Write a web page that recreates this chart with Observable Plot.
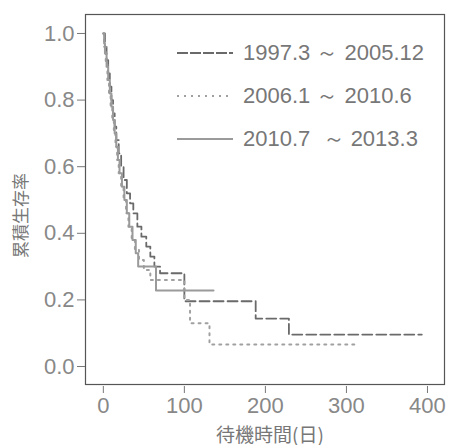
<!DOCTYPE html>
<html><head><meta charset="utf-8">
<script src="https://cdn.jsdelivr.net/npm/d3@7"></script>
<script src="https://cdn.jsdelivr.net/npm/@observablehq/plot@0.6"></script>
<style>
body{margin:0;background:#fff;}
#wrap{position:relative;width:450px;height:445px;overflow:hidden;}
#legend{position:absolute;left:177px;top:31px;font-family:"Liberation Sans",Arial,sans-serif;font-size:22px;color:#777;}
#legend .row{height:43px;display:flex;align-items:center;}
#legend svg{margin-right:10px;}
</style></head>
<body><div id="wrap"><div id="legend"></div></div>
<script>
const seriesNames = ["1997.3 ～ 2005.12", "2006.1 ～ 2010.6", "2010.7  ～ 2013.3"];
const seriesColors = ["#6a6a6a", "#a0a0a0", "#9a9a9a"];
const seriesDash = ["10,4", "2,5", null];
const xTicks = [0, 100, 200, 300, 400];
const yTicks = [0, 0.2, 0.4, 0.6, 0.8, 1.0];

const t1 = [0, 2, 4, 6, 8, 10, 12, 14, 16, 19, 22, 25, 29, 33, 37, 42, 47, 53, 58, 63, 70, 100, 188, 229, 393];
const s1 = [1.0, 0.96, 0.92, 0.88, 0.84, 0.80, 0.76, 0.72, 0.68, 0.64, 0.60, 0.56, 0.52, 0.49, 0.46, 0.42, 0.39, 0.36, 0.33, 0.30, 0.28, 0.196, 0.144, 0.096, 0.096];
const t2 = [0, 1, 3, 5, 7, 9, 11, 13, 15, 17, 19, 22, 25, 28, 31, 35, 39, 44, 50, 58, 100, 107, 131, 311];
const s2 = [1.0, 0.96, 0.91, 0.86, 0.82, 0.78, 0.74, 0.70, 0.66, 0.62, 0.58, 0.54, 0.50, 0.46, 0.42, 0.38, 0.35, 0.32, 0.29, 0.26, 0.20, 0.13, 0.066, 0.066];
const t3 = [0, 1, 2, 4, 6, 8, 10, 12, 14, 16, 18, 20, 23, 26, 29, 32, 36, 40, 43, 65, 136];
const s3 = [1.0, 0.97, 0.94, 0.90, 0.86, 0.82, 0.78, 0.74, 0.70, 0.66, 0.62, 0.58, 0.54, 0.50, 0.46, 0.42, 0.38, 0.34, 0.30, 0.228, 0.228];

const times = [t1, t2, t3];
const surv = [s1, s2, s3];

const lineMarks = times.map((ts, i) => Plot.line(ts.map((t, j) => ({t, s: surv[i][j]})), {
  x: "t", y: "s", curve: "step-after",
  stroke: seriesColors[i], strokeWidth: i === 0 ? 1.8 : 2,
  strokeDasharray: seriesDash[i]
}));

const chart = Plot.plot({
  width: 450, height: 445,
  marginLeft: 85, marginRight: 6, marginTop: 14, marginBottom: 61,
  style: {background: "#fff", fontFamily: "Liberation Sans, Arial, sans-serif", color: "#777"},
  x: {domain: [-22, 421]},
  y: {domain: [-0.054, 1.057]},
  marks: [
    ...lineMarks,
    Plot.frame({stroke: "#555", strokeWidth: 1.2}),
    Plot.axisX(xTicks, {tickSize: 7, tickPadding: 4, fontSize: 22, label: null, stroke: "#777", fill: "#888", dy: 2}),
    Plot.axisY(yTicks, {tickSize: 8, tickPadding: 3, fontSize: 22, label: null, tickFormat: d3.format(".1f"), stroke: "#777", fill: "#888"}),
    Plot.text(["待機時間(日)"], {frameAnchor: "bottom", textAnchor: "middle", dx: 5, dy: 57, fontSize: 19, fill: "#777", fontFamily: "Noto Sans CJK JP"}),
    Plot.text(["累積生存率"], {frameAnchor: "left", textAnchor: "middle", dx: -64, dy: 16, rotate: -90, fontSize: 17, fill: "#777", fontFamily: "Noto Sans CJK JP"})
  ]
});
document.getElementById("wrap").prepend(chart);

const legend = document.getElementById("legend");
seriesNames.forEach((name, i) => {
  const row = document.createElement("div");
  row.className = "row";
  row.innerHTML = `<svg width="56" height="6"><line x1="0" x2="56" y1="3" y2="3" stroke="${seriesColors[i]}" stroke-width="2" ${seriesDash[i] ? `stroke-dasharray="${i===0?'11,2':'2,5'}"` : ""}/></svg><span style="white-space:pre">${name}</span>`;
  legend.appendChild(row);
});
</script>
</body></html>
